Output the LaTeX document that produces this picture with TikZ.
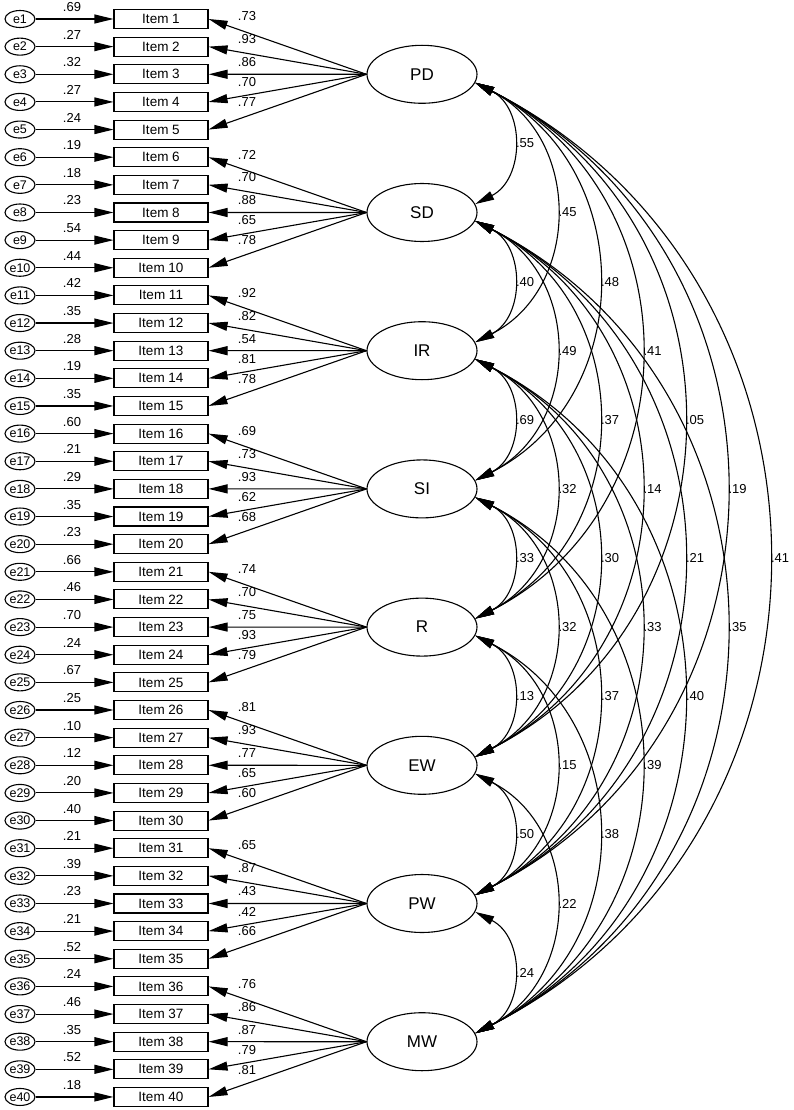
\documentclass[tikz,border=0pt]{standalone}
\usepackage{fontspec}
\setmainfont{Liberation Sans}
\usetikzlibrary{arrows.meta,shapes.geometric}
\begin{document}
\begin{tikzpicture}[x=1pt,y=1pt,
  item/.style={draw, line width=1.1pt, minimum width=94pt, minimum height=19pt, inner sep=0pt, font=\fontsize{13.5}{15}\selectfont},
  err/.style={draw, ellipse, line width=1.1pt, minimum width=30pt, minimum height=17pt, inner sep=0pt, font=\fontsize{12.5}{14}\selectfont},
  lat/.style={draw, ellipse, line width=1.1pt, minimum width=110pt, minimum height=58pt, inner sep=0pt, font=\fontsize{17}{20}\selectfont},
  num/.style={font=\fontsize{13}{14}\selectfont, inner sep=0pt},
  arr/.style={line width=1.1pt, -{Triangle[length=19pt,width=9pt]}},
  corr/.style={line width=1.1pt, {Triangle[length=19pt,width=9pt]}-{Triangle[length=19pt,width=9pt]}, out=-27, in=27, looseness=1.18},
]
\useasboundingbox (0,0) rectangle (794,-1110);

% items and error terms
\foreach \k/\v in {1/.69,2/.27,3/.32,4/.27,5/.24,6/.19,7/.18,8/.23,9/.54,10/.44,
  11/.42,12/.35,13/.28,14/.19,15/.35,16/.60,17/.21,18/.29,19/.35,20/.23,
  21/.66,22/.46,23/.70,24/.24,25/.67,26/.25,27/.10,28/.12,29/.20,30/.40,
  31/.21,32/.39,33/.23,34/.21,35/.52,36/.24,37/.46,38/.35,39/.52,40/.18} {
  \pgfmathsetmacro{\yy}{-(19+(\k-1)*27.64)}
  \node[item] (I\k) at (161,\yy) {Item \k};
  \node[err] (e\k) at (20,\yy) {e\k};
  \draw[arr] (e\k) -- (I\k);
  \node[num] (ev\k) at (72,{\yy+12}) {\v};
}

% latent variables
\foreach \n/\j in {PD/0,SD/1,IR/2,SI/3,R/4,EW/5,PW/6,MW/7} {
  \node[lat] (\n) at (422,{-(74.3+138.2*\j)}) {\n};
}

% loadings
\foreach \n/\j/\vals in {PD/0/{.73,.93,.86,.70,.77},SD/1/{.72,.70,.88,.65,.78},
  IR/2/{.92,.82,.54,.81,.78},SI/3/{.69,.73,.93,.62,.68},R/4/{.74,.70,.75,.93,.79},
  EW/5/{.81,.93,.77,.65,.60},PW/6/{.65,.87,.43,.42,.66},MW/7/{.76,.86,.87,.79,.81}} {
  \foreach \v [count=\i] in \vals {
    \pgfmathtruncatemacro{\itm}{5*\j+\i}
    \pgfmathsetmacro{\off}{{-58,-35,-12,8,28}[\i-1]}
    \draw[arr] (\n.west) -- (I\itm.east);
    \node[num] (ld\itm) at (247,{-(74.3+138.2*\j+\off)}) {\v};
  }
}

% correlations
\foreach \a/\b/\v in {PD/SD/.55,PD/IR/.45,PD/SI/.48,PD/R/.41,PD/EW/.05,PD/PW/.19,PD/MW/.41,
  SD/IR/.40,SD/SI/.49,SD/R/.37,SD/EW/.14,SD/PW/.21,SD/MW/.35,
  IR/SI/.69,IR/R/.32,IR/EW/.30,IR/PW/.33,IR/MW/.40,
  SI/R/.33,SI/EW/.32,SI/PW/.37,SI/MW/.39,
  R/EW/.13,R/PW/.15,R/MW/.38,
  EW/PW/.50,EW/MW/.22,
  PW/MW/.24} {
  \draw[corr] (\a.-9) to node[num,right=3pt] {\v} (\b.9);
}
\end{tikzpicture}
\end{document}
